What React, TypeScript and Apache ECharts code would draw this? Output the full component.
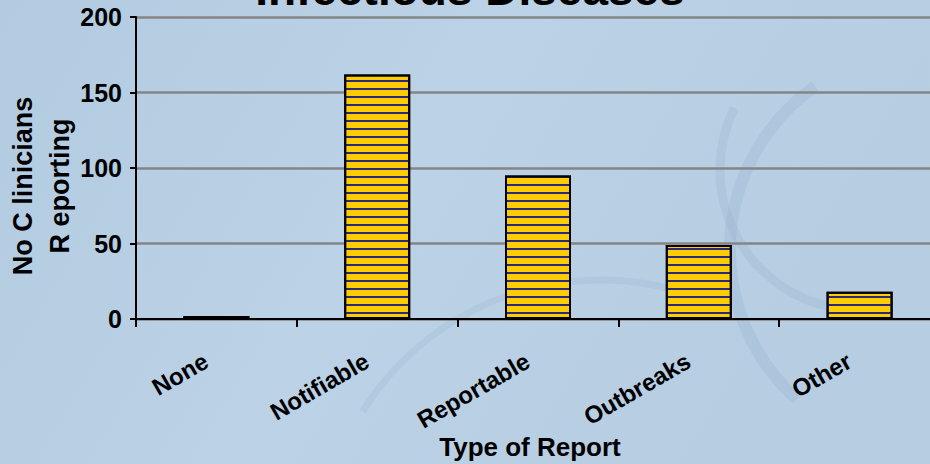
import React, { useEffect, useRef } from "react";
import * as echarts from "echarts";

const categories = ["None", "Notifiable", "Reportable", "Outbreaks", "Other"];
const clinicians = [2, 162, 95, 49, 18];
const yTicks = [0, 50, 100, 150, 200];
const titleText = "Infectious Diseases";
const yName = "No C linicians\nR eporting";
const xName = "Type of Report";

const FONT = "'Liberation Sans', Arial, sans-serif";

export default function App() {
  const ref = useRef<HTMLDivElement>(null);
  useEffect(() => {
    document.body.style.margin = "0";
    const chart = echarts.init(ref.current!, null, { renderer: "svg" });
    chart.setOption({
      animation: false,
      backgroundColor: {
        type: "linear",
        x: 0, y: 0, x2: 1, y2: 0.3,
        colorStops: [
          { offset: 0, color: "#b2cbe0" },
          { offset: 0.5, color: "#bcd2e6" },
          { offset: 1, color: "#b6cde2" },
        ],
      },
      graphic: [
        { type: "arc", silent: true, z: -10, shape: { cx: 930, cy: 250, r: 200, startAngle: 2.3, endAngle: 4.1 }, style: { stroke: "rgba(140,170,200,0.22)", lineWidth: 12, fill: null } },
        { type: "arc", silent: true, z: -10, shape: { cx: 860, cy: 170, r: 140, startAngle: 1.7, endAngle: 3.6 }, style: { stroke: "rgba(140,170,200,0.2)", lineWidth: 9, fill: null } },
        { type: "arc", silent: true, z: -10, shape: { cx: 600, cy: 560, r: 280, startAngle: 3.7, endAngle: 5.1 }, style: { stroke: "rgba(140,170,200,0.18)", lineWidth: 7, fill: null } },
        {
          type: "text",
          x: 470,
          y: 12,
          z: 10,
          style: {
            text: titleText,
            font: `bold 46px ${FONT}`,
            fill: "#000",
            align: "center",
            verticalAlign: "bottom",
          },
        },
      ],
      grid: { left: 136, top: 17, bottom: 145, width: 804, containLabel: false, outerBoundsMode: "none" },
      xAxis: {
        type: "category",
        data: categories,
        boundaryGap: true,
        name: xName,
        nameLocation: "middle",
        nameGap: 115,
        nameMoveOverlap: false,
        nameTextStyle: { fontFamily: FONT, fontWeight: "bold", fontSize: 26, color: "#000", padding: [0, 16, 0, 0] },
        axisLine: { lineStyle: { color: "#000", width: 2 } },
        axisTick: { show: true, alignWithLabel: false, length: 8, lineStyle: { color: "#000", width: 2 } },
        axisLabel: {
          interval: 0,
          rotate: 30,
          margin: 34,
          fontFamily: FONT,
          fontWeight: "bold",
          fontSize: 24,
          color: "#000",
          align: "right",
          padding: [0, 12, 0, 0],
        },
      },
      yAxis: {
        type: "value",
        min: 0,
        max: 200,
        interval: 50,
        name: yName,
        nameLocation: "middle",
        nameRotate: 90,
        nameGap: 58,
        nameMoveOverlap: false,
        nameTextStyle: { fontFamily: FONT, fontWeight: "bold", fontSize: 27, color: "#000", lineHeight: 37, padding: [0, 36, 0, 0] },
        axisLine: { show: true, lineStyle: { color: "#000", width: 2 } },
        axisTick: { show: true, length: 6, lineStyle: { color: "#000", width: 2 } },
        axisLabel: {
          margin: 14,
          fontFamily: FONT,
          fontWeight: "bold",
          fontSize: 25,
          color: "#000",
          formatter: (v: number) => (yTicks.includes(v) ? String(v) : ""),
        },
        splitLine: { show: true, lineStyle: { color: "#858585", width: 2.5 } },
      },
      series: [
        {
          type: "bar",
          data: clinicians,
          barWidth: 66,
          itemStyle: {
            color: "#ffcc00",
            borderColor: "#000",
            borderWidth: 2,
            decal: {
              symbol: "rect",
              symbolSize: 1,
              dashArrayX: [[1, 0]],
              dashArrayY: [2, 5.6],
              color: "#2a2a7a",
            },
          },
        },
      ],
    });
    return () => chart.dispose();
  }, []);
  return <div ref={ref} style={{ width: 930, height: 464 }} />;
}
